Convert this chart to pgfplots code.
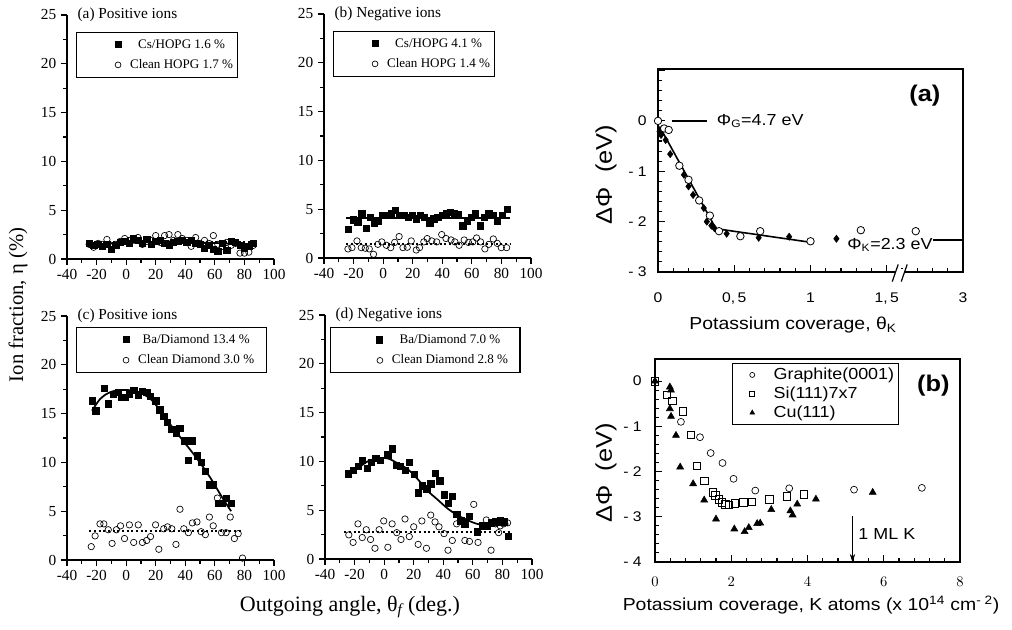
\documentclass[border=0pt]{standalone}
\usepackage{pgfplots}
\pgfplotsset{compat=1.18}
\usepackage{fontspec}
\setmainfont{Liberation Serif}
\newfontfamily\hv[FakeStretch=1.12]{Liberation Sans}
\usetikzlibrary{arrows.meta}
\newcommand\fs[1]{\fontsize{#1}{#1}\selectfont}
\pgfplotsset{
 leftax/.style={
  scale only axis, width=155.25pt, height=183pt,
  xmin=-40, xmax=100, ymin=0, ymax=25,
  axis x line*=bottom, axis y line*=left,
  axis line style={line width=1pt},
  xtick={-40,-20,...,100}, ytick={0,5,...,25},
  minor x tick num=1, minor y tick num=1,
  tick align=outside,
  major tick length=4.5pt, minor tick length=3pt,
  tick style={black, line width=0.9pt},
  tick label style={font=\fs{11.5}},
  /pgf/number format/assume math mode=true,
  clip=false,
  legend cell align=center,
  legend style={draw=black, line width=0.9pt, font=\fs{9.8}, inner xsep=1pt, inner ysep=3pt, anchor=north west, row sep=3pt},
 },
 sq/.style={only marks, mark=square*, mark size=2.4pt, black,
   legend image code/.code={\path[draw=none,fill=none] (0pt,-3pt) -- (37pt,3pt); \draw[##1, mark size=2.2pt] plot coordinates {(30pt,0pt)};}},
 ci/.style={only marks, mark=o, mark size=2.4pt, black, mark options={line width=0.5pt},
   legend image code/.code={\path[draw=none,fill=none] (0pt,-3pt) -- (37pt,3pt); \draw[##1, mark size=2.2pt] plot coordinates {(30pt,0pt)};}},
 fit/.style={no marks, black, line width=1.3pt, forget plot},
 dot/.style={no marks, black, line width=1.5pt, dotted, forget plot},
 rightax/.style={
  scale only axis, width=228.75pt, height=152.25pt,
  axis line style={line width=0.9pt},
  tick align=inside, tick pos=left,
  major tick length=5pt, minor tick length=3pt,
  tick style={black, line width=0.8pt},
  tick label style={font=\hv\fs{10.5}},
  clip=false,
 },
 rleg/.style={legend image code/.code={\path[draw=none,fill=none] (0pt,-3pt) -- (28pt,3pt); \draw[##1, mark size=1.9pt] plot coordinates {(14pt,0pt)};}},
}
\begin{document}
\begin{tikzpicture}
\path[use as bounding box] (0,0) rectangle (759pt,-472.5pt);

% ---------- (a) Positive ions
\begin{axis}[leftax, at={(50.25pt,-194.25pt)}, anchor=south west,
  legend style={at={(rel axis cs:0.044,0.93)}}]
\addplot[sq] coordinates {(-25,1.6) (-22,1.4) (-19,1.5) (-16,1.3) (-13,1.5) (-10,1.0) (-7,1.4) (-4,1.7) (-1,1.8) (2,1.6) (5,2.1) (8,1.9) (11,1.6) (14,2.0) (17,1.5) (20,1.8) (23,1.9) (26,1.6) (29,1.4) (32,1.7) (35,1.8) (38,1.9) (41,1.7) (44,1.9) (47,1.6) (50,1.5) (53,1.1) (56,1.4) (59,1.0) (62,0.8) (65,1.6) (68,0.9) (71,1.8) (74,1.7) (77,1.4) (80,1.1) (83,1.3) (86,1.6)};
\addlegendentry{Cs/HOPG 1.6 \%}
\addplot[ci] coordinates {(-25,1.5) (-22,1.2) (-19,1.6) (-16,1.5) (-13,2.0) (-10,1.4) (-7,1.5) (-4,1.8) (-1,2.1) (2,1.9) (5,2.0) (8,2.2) (11,1.5) (14,1.8) (17,1.9) (20,2.4) (23,1.7) (26,2.4) (29,2.5) (32,1.9) (35,2.5) (38,2.1) (41,1.9) (44,1.3) (47,2.2) (50,1.6) (53,1.9) (56,1.6) (59,2.4) (62,1.5) (65,1.3) (68,1.7) (71,1.4) (74,1.6) (77,0.6) (80,0.6) (83,0.7) (86,1.4)};
\addlegendentry{Clean HOPG 1.7 \%}
\addplot[fit] coordinates {(-25,1.5) (30,1.8) (86,1.5)};
\addplot[dot] coordinates {(-25,1.7) (86,1.7)};
\node[anchor=west, inner sep=0, font=\fs{11.5}] at (axis cs:-33,25) {(a) Positive ions};
\end{axis}

% ---------- (b) Negative ions
\begin{axis}[leftax, at={(243pt,-193.5pt)}, anchor=south west,
  legend style={at={(rel axis cs:0.044,0.93)}}]
\addplot[sq] coordinates {(-23.5,2.95) (-20.1,3.9) (-17.2,3.7) (-14.5,4.6) (-11.6,3.05) (-8.9,4.15) (-6.0,3.6) (-3.3,3.8) (-0.5,4.4) (2.2,4.35) (5.6,4.6) (8.3,4.9) (11.2,4.35) (14.1,4.35) (16.8,4.15) (19.7,4.35) (22.4,4.0) (25.3,4.35) (28.0,4.15) (31.4,3.6) (34.3,4.0) (36.9,4.15) (39.9,4.35) (42.5,4.6) (45.5,4.7) (48.2,4.6) (50.9,4.5) (53.8,3.3) (56.7,3.8) (59.4,4.15) (62.1,4.6) (65.7,3.3) (68.3,4.2) (71.3,4.6) (74.5,4.35) (77.3,3.8) (80.6,4.35) (84.0,5.0)};
\addlegendentry{Cs/HOPG 4.1 \%}
\addplot[ci] coordinates {(-23.8,0.93) (-21.1,1.06) (-17.7,1.75) (-14.8,1.06) (-12.1,1.0) (-9.4,0.93) (-6.5,0.38) (-3.6,1.4) (-0.9,1.65) (2.2,1.3) (5.1,1.06) (7.8,1.6) (10.8,2.2) (13.4,1.06) (16.3,1.1) (19.0,1.75) (22.4,0.82) (24.6,1.06) (27.5,1.65) (29.8,1.99) (32.9,1.75) (36.2,1.65) (39.6,2.4) (42.5,2.0) (45.9,1.85) (48.5,1.65) (51.4,1.3) (54.8,1.85) (57.7,1.6) (60.6,1.65) (63.2,2.05) (65.9,1.65) (68.8,0.93) (71.5,1.4) (74.5,1.95) (77.2,1.5) (79.9,1.06) (83.5,1.06)};
\addlegendentry{Clean HOPG 1.4 \%}
\addplot[fit] coordinates {(-25,4.1) (86,4.1)};
\addplot[dot] coordinates {(-25,1.4) (86,1.4)};
\node[anchor=west, inner sep=0, font=\fs{11.5}] at (axis cs:-33,25) {(b) Negative ions};
\end{axis}

% ---------- (c) Positive ions
\begin{axis}[leftax, at={(50.25pt,-420pt)}, anchor=south west,
  legend style={at={(rel axis cs:0.044,0.955)}, inner xsep=7pt}]
\addplot[sq] coordinates {(-23.1,16.3) (-20.5,15.3) (-14.8,17.6) (-12.1,16.0) (-8.8,17.0) (-5.5,17.2) (-3.3,16.7) (-0.7,16.7) (2.2,17.0) (5.1,17.4) (8.4,16.9) (11.0,17.3) (13.9,17.2) (16.5,16.8) (19.9,16.3) (22.7,15.4) (25.4,14.7) (28.0,14.1) (30.9,13.4) (33.7,13.0) (36.4,13.5) (39.7,12.2) (42.1,10.2) (44.8,12.2) (47.9,10.7) (50.7,10.0) (53.6,9.1) (56.3,7.7) (58.9,7.7) (62.4,5.8) (65.0,5.8) (67.7,6.3) (71.0,5.8)};
\addlegendentry{Ba/Diamond 13.4 \%}
\addplot[ci] coordinates {(-23.6,1.37) (-21.0,2.47) (-17.7,3.7) (-15.1,3.7) (-12.1,3.1) (-9.5,1.7) (-6.6,3.1) (-3.8,3.5) (-1.1,2.2) (2.2,3.6) (5.1,1.8) (8.2,3.6) (11.0,1.8) (13.9,2.0) (16.5,2.4) (19.9,3.6) (22.1,1.1) (25.4,3.2) (28.0,3.4) (30.9,3.2) (33.7,1.6) (36.4,5.2) (39.0,3.2) (42.1,2.8) (44.8,3.8) (47.9,3.9) (50.7,2.9) (53.6,2.6) (56.3,4.4) (58.9,3.5) (61.7,6.35) (64.5,2.8) (67.6,2.8) (70.4,4.4) (73.2,2.2) (75.8,2.7) (78.7,0.2)};
\addlegendentry{Clean Diamond 3.0 \%}
\addplot[fit, smooth] coordinates {(-23.1,15.3) (-17.6,16.5) (-12.1,17.1) (-5.5,17.4) (2.2,17.4) (8.8,17.2) (16.5,16.5) (23.1,15.3) (29.8,13.9) (38.6,12.2) (47.4,10.5) (56.2,8.6) (65.0,6.4) (71.0,5.0)};
\addplot[dot] coordinates {(-25,3.0) (78,3.0)};
\node[anchor=west, inner sep=0, font=\fs{11.5}] at (axis cs:-33,25) {(c) Positive ions};
\end{axis}

% ---------- (d) Negative ions
\begin{axis}[leftax, at={(243.75pt,-419.25pt)}, anchor=south west,
  legend style={at={(rel axis cs:0.024,0.95)}, inner xsep=7pt}]
\addplot[sq] coordinates {(-24.4,8.75) (-21.0,9.1) (-17.7,9.5) (-14.8,10.1) (-11.6,9.3) (-8.7,9.9) (-5.8,10.3) (-2.5,10.1) (2.5,10.7) (5.4,11.3) (8.0,9.6) (11.0,9.5) (14.1,9.1) (17.0,9.9) (20.3,8.7) (23.0,6.8) (25.9,7.5) (28.8,7.2) (31.5,7.7) (34.4,8.8) (37.6,8.0) (40.5,6.6) (43.2,5.7) (46.1,6.4) (49.0,4.6) (51.7,3.9) (54.6,3.6) (57.7,4.4) (62.9,2.8) (66.2,3.4) (69.6,3.4) (72.5,3.7) (75.6,3.8) (78.5,3.9) (81.2,3.8) (84.1,2.3)};
\addlegendentry{Ba/Diamond 7.0 \%}
\addplot[ci] coordinates {(-23.9,2.47) (-21.0,1.7) (-17.7,3.6) (-14.8,2.2) (-12.1,3.0) (-9.2,2.0) (-6.2,1.1) (-3.4,3.0) (-0.3,3.9) (2.5,1.2) (5.4,3.6) (8.5,2.7) (11.4,2.0) (14.1,4.1) (17.0,2.3) (20.0,3.3) (23.0,1.5) (25.5,3.9) (28.6,1.1) (31.5,4.5) (34.4,3.8) (37.1,3.3) (40.5,2.6) (43.2,0.9) (46.1,1.9) (49.0,3.6) (51.7,4.0) (54.6,1.9) (57.7,1.8) (60.6,5.6) (63.5,1.7) (69.1,4.0) (72.3,0.9) (75.2,3.6) (77.4,2.7) (78.5,3.4) (80.8,3.6) (83.5,3.7)};
\addlegendentry{Clean Diamond 2.8 \%}
\addplot[fit, smooth] coordinates {(-25.5,8.4) (-17.7,9.3) (-11.2,10.0) (-4.5,10.3) (2.5,10.3) (9.2,9.8) (15.9,9.2) (22.6,8.2) (29.3,7.0) (36,6.1) (42.7,5.2) (49.4,4.5) (56.1,4.0) (62.9,3.6) (71.8,3.4) (84,3.6)};
\addplot[dot] coordinates {(-27,2.8) (85,2.8)};
\node[anchor=west, inner sep=0, font=\fs{11.5}] at (axis cs:-33,25) {(d) Negative ions};
\end{axis}

\node[rotate=90, font=\fs{15.5}] at (13.5pt,-228.75pt) {Ion fraction, η (\%)};
\node[font=\fs{16.5}] at (262.5pt,-455.25pt) {Outgoing angle, θ\textsubscript{\textit{f}}\,(deg.)};

% ---------- right (a)
\begin{axis}[rightax, at={(493.5pt,-204pt)}, anchor=south west,
  xmin=0, xmax=2, ymin=-3, ymax=1.03,
  xtick={0,0.5,1,1.5,2}, xticklabels={0,{0,\,5},1,{1,\,5},3}, minor x tick num=4,
  ytick={-3,-2,-1,0,1}, yticklabels={- 3,- 2,- 1,0,{}}, minor y tick num=4,
  xticklabel style={yshift=-12pt}, yticklabel style={xshift=-5pt}]
\addplot[no marks, black, line width=1.2pt] coordinates {(0.01,-0.11) (0.38,-2.14) (1.0,-2.41)};
\addplot[only marks, black, mark=diamond*, mark size=2.7pt] coordinates {(0.01,-0.21) (0.02,-0.28) (0.05,-0.38) (0.08,-0.66) (0.17,-1.07) (0.2,-1.3) (0.23,-1.47) (0.3,-1.73) (0.32,-2.0) (0.35,-2.08) (0.37,-2.13) (0.45,-2.24) (0.66,-2.32) (0.86,-2.3) (1.17,-2.34)};
\addplot[only marks, mark=*, mark size=2.8pt, mark options={fill=white, draw=black, line width=0.6pt}] coordinates {(0,0) (0.04,-0.15) (0.07,-0.18) (0.14,-0.89) (0.2,-1.17) (0.27,-1.58) (0.34,-1.88) (0.40,-2.19) (0.54,-2.29) (0.67,-2.19) (1.0,-2.39) (1.33,-2.17) (1.69,-2.19)};
\draw[line width=1.2pt] (axis cs:0.09,0) -- (axis cs:0.32,0);
\draw[line width=1.2pt] (axis cs:1.8,-2.36) -- (axis cs:2,-2.36);
\node[anchor=west, inner sep=0, font=\hv\fs{12}] at (axis cs:0.385,0) {Φ\textsubscript{G}=4.7 eV};
\node[anchor=west, inner sep=0, font=\hv\fs{12}] at (axis cs:1.24,-2.46) {Φ\textsubscript{K}=2.3 eV};
\node[font=\hv\bfseries\fs{17}] at (axis cs:1.75,0.5) {(a)};
\fill[white] (axis cs:1.56,-3.06) rectangle (axis cs:1.61,-2.94);
\draw[line width=0.9pt] (axis cs:1.536,-3.19) -- (axis cs:1.575,-2.85);
\draw[line width=0.9pt] (axis cs:1.595,-3.19) -- (axis cs:1.634,-2.85);
\end{axis}
\node[font=\hv\fs{13}] at (594.75pt,-243.75pt) {Potassium coverage, θ\textsubscript{K}};
\node[rotate=90, font=\hv\fs{17}] at (454.5pt,-131pt) {ΔΦ\ \ (eV)};

% ---------- right (b)
\begin{axis}[rightax, at={(491.25pt,-421.5pt)}, anchor=south west,
  xmin=0, xmax=8, ymin=-4, ymax=0.49,
  xtick={0,2,4,6,8}, minor x tick num=4,
  ytick={-4,-3,-2,-1,0}, yticklabels={- 4,- 3,- 2,- 1,0}, minor y tick num=4,
  xticklabel style={yshift=-8pt}, yticklabel style={xshift=-6.5pt},
  legend cell align=left,
  legend style={at={(rel axis cs:0.252,0.98)}, anchor=north west, draw=black, line width=0.6pt, font=\hv\fs{12}, inner xsep=1pt, inner ysep=1.5pt, row sep=0pt}]
\addplot[only marks, mark=o, mark size=2.6pt, black, mark options={line width=0.5pt}, rleg] coordinates {(0.68,-0.9) (1.18,-1.24) (1.46,-1.59) (1.77,-1.81) (2.06,-2.16) (2.63,-2.42) (3.52,-2.37) (5.22,-2.4) (7.0,-2.36)};
\addlegendentry{Graphite(0001)}
\addplot[only marks, mark=square, mark size=2.8pt, black, mark options={line width=0.5pt}, rleg] coordinates {(0,0) (0.31,-0.3) (0.46,-0.44) (0.73,-0.67) (0.94,-1.19) (1.1,-1.87) (1.29,-2.2) (1.52,-2.46) (1.58,-2.53) (1.67,-2.61) (1.75,-2.68) (1.84,-2.72) (1.93,-2.73) (2.1,-2.70) (2.32,-2.68) (2.54,-2.67) (3.0,-2.61) (3.46,-2.55) (3.9,-2.5)};
\addlegendentry{Si(111)7x7}
\addplot[only marks, mark=triangle*, mark size=3pt, black, rleg] coordinates {(0,0) (0.39,-0.13) (0.42,-0.2) (0.39,-0.61) (0.42,-0.78) (0.55,-1.2) (0.66,-1.9) (1.0,-2.27) (1.29,-2.63) (1.6,-3.05) (2.08,-3.27) (2.35,-3.33) (2.46,-3.24) (2.68,-3.15) (2.76,-3.14) (3.05,-2.84) (3.55,-2.87) (3.61,-2.96) (3.73,-2.72) (4.22,-2.61) (5.71,-2.46)};
\addlegendentry{Cu(111)}
\node[font=\hv\bfseries\fs{17}] at (axis cs:7.3,-0.1) {(b)};
\draw[-{Stealth[length=6pt,width=4pt]}, line width=0.5pt] (axis cs:5.18,-2.98) -- (axis cs:5.18,-4);
\node[anchor=west, inner sep=0, font=\hv\fs{12}] at (axis cs:5.33,-3.38) {1 ML K};
\end{axis}
\node[font=\hv\fs{13}] at (608.25pt,-453.75pt) {Potassium coverage, K atoms (x 10\textsuperscript{14} cm\textsuperscript{- 2})};
\node[rotate=90, font=\hv\fs{17}] at (454.5pt,-354.75pt) {ΔΦ\ \ (eV)};
\end{tikzpicture}
\end{document}
